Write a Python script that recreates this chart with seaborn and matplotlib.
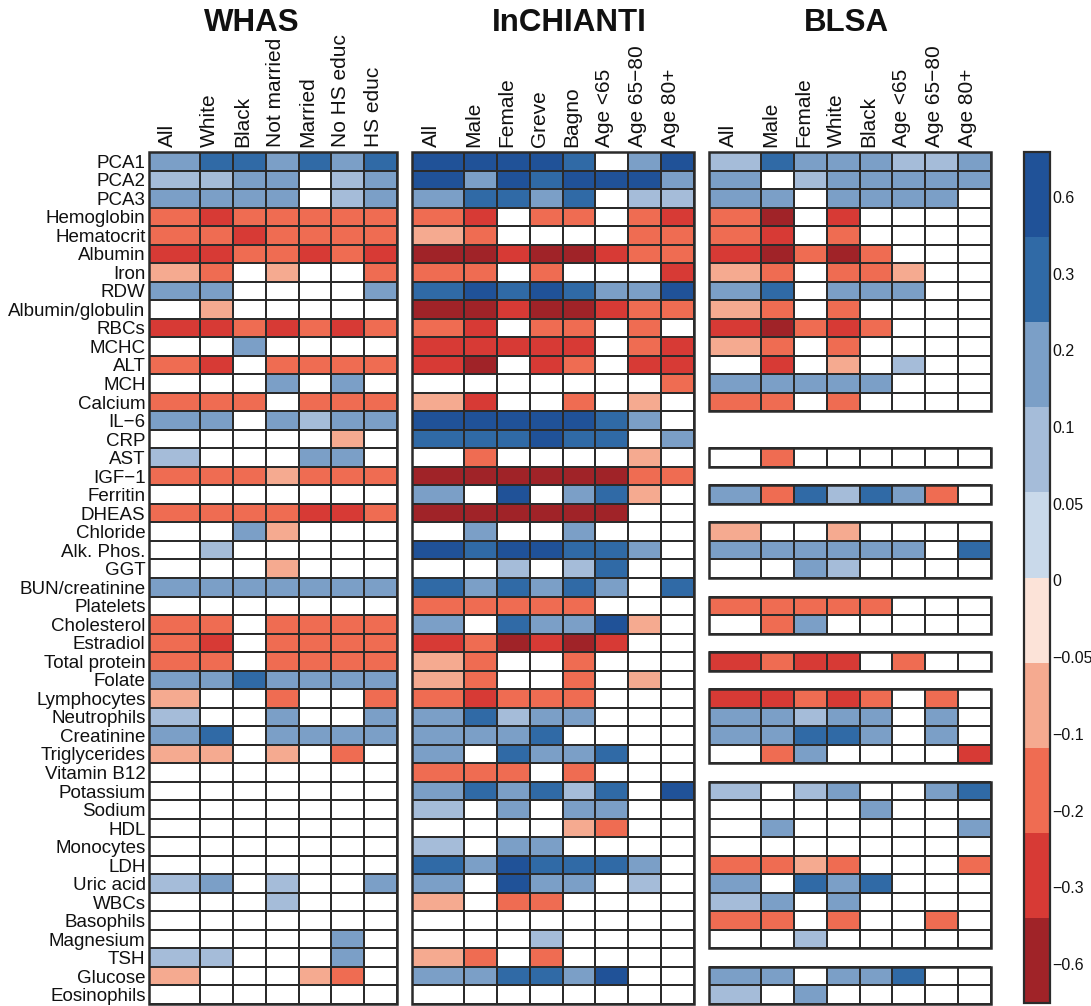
import numpy as np
import pandas as pd
import matplotlib
matplotlib.use("Agg")
import matplotlib.pyplot as plt
import matplotlib.transforms as mtransforms
from matplotlib.colors import ListedColormap, BoundaryNorm, to_rgba
from matplotlib.cm import ScalarMappable
from matplotlib.patches import Rectangle
import seaborn as sns

sns.set_theme(style="white")
plt.rcParams['font.family'] = ['Liberation Sans', 'DejaVu Sans']

# ---------------- data ----------------
rows = ["PCA1", "PCA2", "PCA3", "Hemoglobin", "Hematocrit", "Albumin", "Iron", "RDW",
        "Albumin/globulin", "RBCs", "MCHC", "ALT", "MCH", "Calcium", "IL\u22126", "CRP", "AST",
        "IGF\u22121", "Ferritin", "DHEAS", "Chloride", "Alk. Phos.", "GGT", "BUN/creatinine",
        "Platelets", "Cholesterol", "Estradiol", "Total protein", "Folate", "Lymphocytes",
        "Neutrophils", "Creatinine", "Triglycerides", "Vitamin B12", "Potassium", "Sodium",
        "HDL", "Monocytes", "LDH", "Uric acid", "WBCs", "Basophils", "Magnesium", "TSH",
        "Glucose", "Eosinophils"]

whas_cols = ["All", "White", "Black", "Not married", "Married", "No HS educ", "HS educ"]
inch_cols = ["All", "Male", "Female", "Greve", "Bagno", "Age <65", "Age 65\u221280", "Age 80+"]
blsa_cols = ["All", "Male", "Female", "White", "Black", "Age <65", "Age 65\u221280", "Age 80+"]

# binned correlation codes: 4=0.3..0.6, 3=0.2..0.3, 2=0.1..0.2, 1=0.05..0.1, 0=n.s.,
# -1=-0.1..-0.05, -2=-0.2..-0.1, -3=-0.3..-0.2, -4=-0.6..-0.3, None = not measured
bin_levels = [-4, -3, -2, -1, 0, 1, 2, 3, 4]

whas = [
    [2, 3, 3, 2, 3, 2, 3],
    [1, 1, 2, 2, 0, 1, 2],
    [2, 2, 2, 2, 0, 1, 2],
    [-2, -3, -2, -2, -2, -2, -2],
    [-2, -2, -3, -2, -2, -2, -2],
    [-3, -3, -2, -2, -3, -2, -3],
    [-1, -2, 0, -1, 0, 0, -2],
    [2, 2, 0, 0, 0, 0, 2],
    [0, -1, 0, 0, 0, 0, 0],
    [-3, -3, -2, -3, -2, -3, -2],
    [0, 0, 2, 0, 0, 0, 0],
    [-2, -3, 0, -2, -2, -2, -2],
    [0, 0, 0, 2, 0, 2, 0],
    [-2, -2, -2, 0, -2, -2, -2],
    [2, 2, 0, 2, 1, 2, 2],
    [0, 0, 0, 0, 0, -1, 0],
    [1, 0, 0, 0, 2, 2, 0],
    [-2, -2, -2, -1, -2, -2, -2],
    [0, 0, 0, 0, 0, 0, 0],
    [-2, -2, -2, -2, -3, -3, -2],
    [0, 0, 2, -1, 0, 0, 0],
    [0, 1, 0, 0, 0, 0, 0],
    [0, 0, 0, -1, 0, 0, 0],
    [2, 2, 2, 2, 2, 2, 2],
    [0, 0, 0, 0, 0, 0, 0],
    [-2, -2, 0, -2, -2, -2, -2],
    [-2, -3, 0, -2, -2, -2, -2],
    [-2, -2, 0, -2, -2, -2, -2],
    [2, 2, 3, 2, 2, 2, 2],
    [-1, 0, 0, -2, 0, 0, -2],
    [1, 0, 0, 2, 0, 0, 2],
    [2, 3, 0, 2, 2, 2, 2],
    [-1, -1, 0, -1, 0, -2, 0],
    [0, 0, 0, 0, 0, 0, 0],
    [0, 0, 0, 0, 0, 0, 0],
    [0, 0, 0, 0, 0, 0, 0],
    [0, 0, 0, 0, 0, 0, 0],
    [0, 0, 0, 0, 0, 0, 0],
    [0, 0, 0, 0, 0, 0, 0],
    [1, 2, 0, 1, 0, 0, 2],
    [0, 0, 0, 1, 0, 0, 0],
    [0, 0, 0, 0, 0, 0, 0],
    [0, 0, 0, 0, 0, 2, 0],
    [1, 1, 0, 0, 0, 2, 0],
    [-1, 0, 0, 0, -1, -2, 0],
    [0, 0, 0, 0, 0, 0, 0],
]

inchianti = [
    [4, 4, 4, 4, 3, 0, 2, 4],
    [4, 2, 4, 3, 4, 4, 4, 2],
    [2, 3, 3, 2, 3, 0, 1, 1],
    [-2, -3, 0, -2, -2, 0, -2, -3],
    [-1, -2, 0, 0, 0, 0, -2, -2],
    [-4, -4, -3, -4, -4, -3, -2, -2],
    [-2, -2, 0, -2, 0, 0, 0, -3],
    [3, 4, 3, 4, 3, 2, 2, 4],
    [-4, -4, -3, -4, -4, -3, -2, -2],
    [-2, -3, 0, -2, -2, 0, -2, 0],
    [-3, -3, -3, -3, -3, 0, -2, -3],
    [-3, -4, 0, -3, -2, 0, -3, -3],
    [0, 0, 0, 0, 0, 0, 0, -2],
    [-1, -3, 0, 0, -2, 0, -1, 0],
    [4, 4, 4, 4, 4, 3, 2, 0],
    [3, 3, 3, 4, 3, 3, 0, 2],
    [0, -2, 0, 0, 0, 0, -1, 0],
    [-4, -4, -4, -4, -4, -4, -2, -2],
    [2, 0, 4, 0, 2, 3, -1, 0],
    [-4, -4, -4, -4, -4, -4, 0, 0],
    [0, 2, 0, 0, 2, 0, 0, 0],
    [4, 3, 4, 4, 3, 3, 2, 0],
    [0, 0, 1, 0, 1, 3, 0, 0],
    [3, 2, 3, 2, 3, 2, 0, 3],
    [-2, -2, -2, -2, -2, 0, 0, 0],
    [2, 0, 3, 2, 2, 4, -1, 0],
    [-3, -2, -4, -3, -4, -3, 0, 0],
    [-1, -2, 0, 0, -2, 0, 0, 0],
    [-1, -2, 0, 0, -2, 0, -1, 0],
    [-2, -3, -2, -2, -2, 0, 0, 0],
    [2, 3, 1, 2, 2, 0, 0, 0],
    [2, 2, 2, 3, 0, 0, 0, 0],
    [2, 0, 3, 2, 2, 3, 0, 0],
    [-2, -2, -2, 0, -2, 0, 0, 0],
    [2, 3, 2, 3, 1, 3, 0, 4],
    [1, 0, 2, 0, 2, 2, 0, 0],
    [0, 0, 0, 0, -1, -2, 0, 0],
    [1, 0, 2, 2, 0, 0, 0, 0],
    [3, 2, 4, 3, 3, 3, 2, 0],
    [2, 0, 4, 2, 2, 0, 1, 0],
    [-1, 0, -2, -2, 0, 0, 0, 0],
    [0, 0, 0, 0, 0, 0, 0, 0],
    [0, 0, 0, 1, 0, 0, 0, 0],
    [-1, -2, 0, -2, 0, 0, 0, 0],
    [2, 2, 3, 3, 2, 4, 0, 0],
    [0, 0, 0, 0, 0, 0, 0, 0],
]

NA = [None] * 8
blsa = [
    [1, 3, 2, 2, 2, 1, 1, 2],
    [2, 0, 1, 2, 2, 2, 2, 2],
    [2, 2, 0, 2, 2, 2, 2, 0],
    [-2, -4, 0, -3, 0, 0, 0, 0],
    [-2, -3, 0, -2, 0, 0, 0, 0],
    [-3, -4, -2, -4, -2, 0, 0, 0],
    [-1, -2, 0, -2, -2, -1, 0, 0],
    [2, 3, 0, 2, 2, 2, 0, 0],
    [-1, -2, 0, -2, 0, 0, 0, 0],
    [-3, -4, -2, -3, -2, 0, 0, 0],
    [-1, -2, 0, -2, 0, 0, 0, 0],
    [0, -3, 0, -1, 0, 1, 0, 0],
    [2, 2, 2, 2, 2, 0, 0, 0],
    [-2, -2, 0, -2, 0, 0, 0, 0],
    NA,
    NA,
    [0, -2, 0, 0, 0, 0, 0, 0],
    NA,
    [2, -2, 3, 1, 3, 2, -2, 0],
    NA,
    [-1, 0, 0, -1, 0, 0, 0, 0],
    [2, 2, 2, 2, 2, 2, 0, 3],
    [0, 0, 2, 1, 0, 0, 0, 0],
    NA,
    [-2, -2, -2, -2, -2, 0, 0, 0],
    [0, -2, 2, 0, 0, 0, 0, 0],
    NA,
    [-3, -2, -3, -3, 0, -2, 0, 0],
    NA,
    [-3, -3, -2, -3, -2, 0, -2, 0],
    [2, 2, 1, 2, 2, 0, 2, 0],
    [2, 2, 3, 3, 2, 0, 2, 0],
    [0, -2, 2, 0, 0, 0, 0, -3],
    NA,
    [1, 0, 1, 2, 0, 0, 2, 3],
    [0, 0, 0, 0, 2, 0, 0, 0],
    [0, 2, 0, 0, 0, 0, 0, 2],
    [0, 0, 0, 0, 0, 0, 0, 0],
    [-2, -2, -1, -2, 0, 0, 0, -2],
    [2, 0, 3, 2, 3, 0, 0, 0],
    [1, 2, 0, 2, 0, 0, 0, 0],
    [-2, -2, 0, -2, 0, 0, -2, 0],
    [0, 0, 1, 0, 0, 0, 0, 0],
    NA,
    [2, 2, 0, 2, 2, 3, 0, 0],
    [1, 0, 2, 0, 0, 0, 0, 0],
]

cbar_labels = ["0.6", "0.3", "0.2", "0.1", "0.05", "0", "\u22120.05", "\u22120.1",
               "\u22120.2", "\u22120.3", "\u22120.6"]

# ---------------- style ----------------
cell_colors = ['#A02328', '#D73A35', '#EF6C52', '#F5AA90', '#FFFFFF',
               '#A5BCD9', '#7B9FC7', '#306AA6', '#205298']
bar_colors_top_down = ['#205298', '#306AA6', '#7B9FC7', '#A5BCD9', '#C9D9EA',
                       '#FCE3D8', '#F5AA90', '#EF6C52', '#D73A35', '#A02328']
EDGE = '#2b2b2b'

W, H = 1091, 1006
fig = plt.figure(figsize=(W / 100, H / 100), dpi=100)
fig.patch.set_facecolor('white')


def fr(x0, y0, x1, y1):
    return [x0 / W, 1 - y1 / H, (x1 - x0) / W, (y1 - y0) / H]


TOP, BOT = 152, 1004
n = len(rows)
row_h = (BOT - TOP) / n

cmap = ListedColormap(cell_colors)
cmap.set_bad((1, 1, 1, 0))

panels = [
    ("WHAS", whas_cols, whas, 149, 200, 397, 252),
    ("InCHIANTI", inch_cols, inchianti, 412, 464, 694, 569),
    ("BLSA", blsa_cols, blsa, 709, 761, 991, 846),
]


def hide_missing_edges(ax):
    mesh = ax.collections[0]
    miss = np.ma.getmaskarray(mesh.get_array()).ravel()
    ec = np.tile(np.array(to_rgba(EDGE)), (miss.size, 1))
    ec[miss] = (0, 0, 0, 0)
    mesh.set_edgecolor(ec)


for pi, (name, cols, data, xa, xb, xc, tx) in enumerate(panels):
    df = pd.DataFrame([[np.nan if v is None else v for v in r] for r in data],
                      index=rows, columns=cols, dtype=float)
    ax1 = fig.add_axes(fr(xa, TOP, xb, BOT))
    ax2 = fig.add_axes(fr(xb, TOP, xc, BOT))
    kw = dict(cmap=cmap, vmin=min(bin_levels) - 0.5, vmax=max(bin_levels) + 0.5, cbar=False,
              linewidths=1.1, linecolor=EDGE, xticklabels=False, yticklabels=False)
    sns.heatmap(df.iloc[:, :1], ax=ax1, **kw)
    sns.heatmap(df.iloc[:, 1:], ax=ax2, **kw)
    for ax, sub in ((ax1, cols[:1]), (ax2, cols[1:])):
        hide_missing_edges(ax)
        ax.set_xlabel('')
        ax.set_ylabel('')
        ax.tick_params(length=0)
        tr = (mtransforms.blended_transform_factory(ax.transData, ax.transAxes)
              + mtransforms.ScaledTranslation(-7 / 100, 5 / 100, fig.dpi_scale_trans))
        for j, c in enumerate(sub):
            ax.text(j + 0.5, 1, c, rotation=90, ha='center', va='bottom', fontsize=15,
                    color='#111111', transform=tr, clip_on=False)
    if pi == 0:
        ax1.set_yticks(np.arange(n) + 0.5)
        ax1.set_yticklabels(rows, rotation=0, fontsize=13.5, color='#111111')
        ax1.tick_params(axis='y', length=0, pad=2.5)
    fig.text(tx / W, 1 - 23 / H, name, ha='center', va='center', fontsize=22.5,
             fontweight='bold', color='#111111')
    # outer borders around contiguous measured blocks
    valid = df.notna().any(axis=1).values
    i = 0
    while i < n:
        if valid[i]:
            j = i
            while j < n and valid[j]:
                j += 1
            y0 = TOP + i * row_h
            y1 = TOP + j * row_h
            fig.add_artist(Rectangle((xa / W, 1 - y1 / H), (xc - xa) / W, (y1 - y0) / H,
                                     transform=fig.transFigure, fill=False, lw=1.8,
                                     edgecolor=EDGE))
            i = j
        else:
            i += 1

# ---------------- colorbar ----------------
CB_TOP, CB_BOT = 152, 1003
cax = fig.add_axes(fr(1024, CB_TOP, 1050, CB_BOT))
nseg = len(bar_colors_top_down)
sm = ScalarMappable(norm=BoundaryNorm(np.arange(nseg + 1), nseg),
                    cmap=ListedColormap(bar_colors_top_down[::-1]))
cb = fig.colorbar(sm, cax=cax)
cb.minorticks_off()
label_px = [197 + k * 76.7 for k in range(len(cbar_labels))]
cb.set_ticks([nseg * (CB_BOT - y) / (CB_BOT - CB_TOP) for y in label_px])
cb.set_ticklabels(cbar_labels)
cax.tick_params(which='both', length=0, pad=1.5, labelsize=11.5, colors='#111111')
cb.outline.set_linewidth(1.6)
cb.outline.set_edgecolor(EDGE)

fig.savefig("out.png", dpi=100, facecolor='white')
